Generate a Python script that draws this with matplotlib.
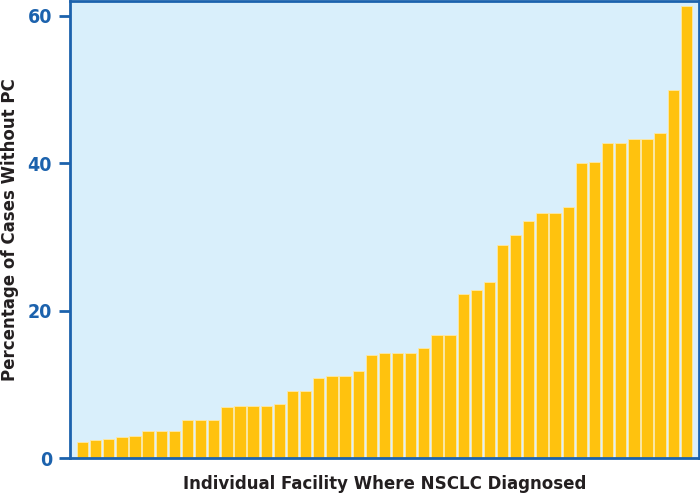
import matplotlib
matplotlib.use("Agg")
import matplotlib.pyplot as plt
import numpy as np

# percentage of cases without PC, one bar per facility (sorted)
pct_no_pc = [2.2, 2.4, 2.6, 2.9, 3.0, 3.7, 3.7, 3.7, 5.2, 5.2, 5.2,
             6.9, 7.0, 7.1, 7.1, 7.4, 9.1, 9.1, 10.8, 11.1, 11.1, 11.8,
             14.0, 14.2, 14.2, 14.2, 14.9, 16.7, 16.7, 22.2, 22.8, 23.9,
             28.9, 30.2, 32.2, 33.3, 33.3, 34.0, 40.0, 40.2, 42.8, 42.8,
             43.3, 43.3, 44.1, 49.9, 61.3]
y_ticks = [0, 20, 40, 60]

BLUE = "#1c62ad"
BAR = "#ffc20e"
BG = "#d9effb"

plt.rcParams['font.family'] = ['DejaVu Sans']
plt.rcParams['font.stretch'] = 'condensed'

fig = plt.figure(figsize=(7, 4.99), dpi=100)
ax = fig.add_axes([0.1, 0.082, 0.898, 0.916])
ax.set_facecolor(BG)

x = np.arange(len(pct_no_pc))
ax.bar(x, pct_no_pc, width=0.86, color=BAR, edgecolor="#fde9a6", linewidth=0.6, zorder=2)

ax.set_xlim(-0.95, len(pct_no_pc) - 0.07)
ax.set_ylim(0, 62)
ax.set_yticks(y_ticks)
ax.set_xticks([])

for s in ax.spines.values():
    s.set_color(BLUE)
    s.set_linewidth(2)

ax.tick_params(axis='y', direction='out', length=8, width=2, color=BLUE,
               labelcolor=BLUE, labelsize=14, pad=5)
for lbl in ax.get_yticklabels():
    lbl.set_fontweight('bold')

ax.set_ylabel("Percentage of Cases Without PC", fontsize=13.3, fontweight='bold',
              color='#231f20', labelpad=6)
ax.set_xlabel("Individual Facility Where NSCLC Diagnosed", fontsize=13.3,
              fontweight='bold', color='#231f20', labelpad=12)

fig.savefig("out.png", dpi=100, facecolor='white')
